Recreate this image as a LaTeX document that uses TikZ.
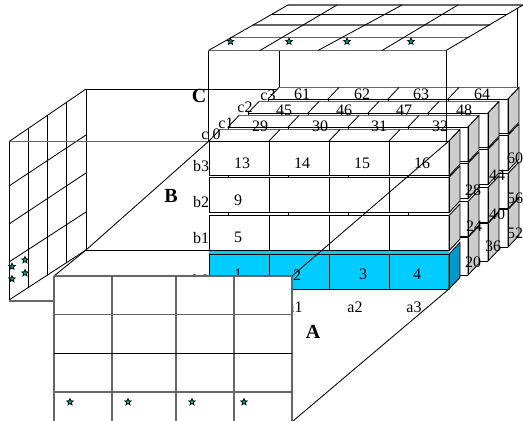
\documentclass[tikz,border=0pt]{standalone}
\usepackage{fontspec}
\setmainfont{Liberation Serif}
\usetikzlibrary{shapes.geometric}
\definecolor{cyanface}{HTML}{00CCFF}
\definecolor{cyanside}{HTML}{0099CC}
\definecolor{sideface}{HTML}{CCCCCC}
\definecolor{stargreen}{HTML}{00A080}
\tikzset{
  ln/.style={draw=black,line width=0.85pt},
  gln/.style={draw=black!60,line width=1.05pt},
  lab/.style={inner sep=0pt,font=\fontsize{16}{18}\selectfont},
  bigl/.style={inner sep=0pt,font=\fontsize{20}{22}\selectfont\bfseries},
  mark5/.style={star,star points=5,star point ratio=2.3,draw=black,line width=0.7pt,fill=stargreen,inner sep=0pt,minimum size=7pt},
}
% one row of a slice: x-left, y-top, y-bottom, front colour, side colour
\newcommand{\slrow}[5]{%
  \fill[#4] (#1,#2) rectangle (#1+240,#3);
  \fill[#5,draw=black,line width=0.85pt] (#1+240,#2) -- ++(11,-11.5) -- (#1+251,#3-11.5) -- (#1+240,#3) -- cycle;
  \foreach \cc in {0,60,120,180,240}{\draw[ln] (#1+\cc,#2) -- (#1+\cc,#3);}
  \draw[ln] (#1,#2) -- (#1+240,#2);
  \draw[ln] (#1,#3) -- (#1+240,#3);
}
% one slice: x-left, y offset
\newcommand{\slice}[2]{%
  \fill[white] (#1,141-#2) -- ++(11,-11.5) -- ++(240,0) -- ++(-11,11.5) -- cycle;
  \draw[gln] (#1+11,129.5-#2) -- ++(240,0);
  \foreach \cc in {0,60,120,180,240}{\draw[ln] (#1+\cc,141-#2) -- ++(11,-11.5);}
  \slrow{#1}{141-#2}{175.8-#2}{white}{sideface}
  \slrow{#1}{177.4-#2}{212.5-#2}{white}{sideface}
  \slrow{#1}{215.5-#2}{250.7-#2}{white}{sideface}
}
\begin{document}
\begin{tikzpicture}[x=1pt,y=-1pt]
\useasboundingbox (0,0) rectangle (523,421);
\fill[white] (0,0) rectangle (523,421);
% side plane (B)
\foreach \xx/\yy in {9/141.6,28/128.8,47.5/115.6,66.5/102.7,86/89}{
  \pgfmathsetmacro{\yb}{300-(\xx-9)*50/77}
  \draw[ln] (\xx,\yy) -- (\xx,\yb);
}
\draw[ln] (9,141.6) -- (86,89);
\draw[ln] (9,186) -- (86,135);
\draw[ln] (9,224) -- (86,173);
\draw[ln] (9,262) -- (86,212);
\draw[ln] (9,300) -- (86,250);
\draw[gln] (9,141.6) -- (209,141.6);
\draw[ln] (86,89) -- (279,89);
\draw[ln] (86,250) -- (209,250);
\draw[ln] (209,141) -- (86,250);
\draw[gln] (9,301) -- (54,301);
\draw[ln] (86,250) -- (54,276);
\foreach \n/\xx/\yy in {sa/12/266.5,sb/25/260,sc/25/273,sd/12/279}{\node[mark5] (\n) at (\xx,\yy) {};}
% top plane (C)
\fill[white] (208.5,50.5) -- (288,5) -- (523,5) -- (446,50.5) -- cycle;
\draw[gln] (288,5) -- (523,5);
\draw[ln] (271.5,14.5) -- (507,14.5);
\draw[gln] (253,25) -- (490,25);
\draw[gln] (231,37.5) -- (469,37.5);
\draw[gln] (208.5,50.5) -- (446,50.5);
\foreach \aa/\bb in {208.5/288,260/337,318/402,382/458,446/523}{\draw[ln] (\aa,50.5) -- (\bb,5);}
\foreach \n/\xx in {ta/230.5,tb/289,tc/347,td/411}{\node[mark5] (\n) at (\xx,41.5) {};}
\draw[ln] (279,51) -- (279,88);
\draw[ln] (517,8) -- (517,87);
% slices, back to front
\slice{268}{42}
\slrow{268}{209.5}{247}{white}{sideface}
\slice{248}{28}
\slrow{248}{223.5}{261}{white}{sideface}
\slice{228}{14}
\slrow{228}{237.5}{275}{white}{sideface}
\slice{209}{0}
\slrow{209}{254}{289}{cyanface}{cyanside}
% top strip of the blue row
\fill[cyanface] (209.4,254) -- (209.4,251.3) -- (448.6,251.3) -- (448.6,254) -- cycle;
% edges over the stack
\draw[ln] (208.5,51) -- (208.5,141);
\draw[ln] (446,51) -- (446,141);
\draw[ln] (449,141) -- (292,276);
\draw[ln] (449,289) -- (293,421);
% labels of cells
\foreach \n/\t/\xx/\yy in {
 l61/61/302/94,l62/62/362/94,l63/63/421/94,l64/64/482/94,
 l45/45/284/110,l46/46/344/110,l47/47/404/110,l48/48/464/110,
 l29/29/260/126,l30/30/320/126,l31/31/379/126,l32/32/440/126,
 l13/13/242/163,l14/14/302/163,l15/15/362/163,l16/16/422/163,
 l9/9/238/200,l5/5/238/237,l1/1/238/274,l2/2/297/275,l3/3/363/274,l4/4/417/274,
 l60/60/515/158,l44/44/497/175,l28/28/473/190,
 l56/56/515/198,l40/40/497/214,l24/24/474/226,
 l52/52/515/233,l36/36/493/246,l20/20/473/262,
 c3/c3/268/95,c2/c2/245/107,c1/c1/226/123,
 b3/b3/201/166,b2/b2/201/202,b1/b1/201/238,b0/b0/201/280,
 a1/a1/295/307,a2/a2/355/307,a3/a3/414/307}{
  \node[lab] (\n) at (\xx,\yy) {\t};
}
\node[lab] (c0) at (211,134) {c 0};
% front plane (A)
\fill[white] (54,276) rectangle (292,421);
\foreach \xx in {54,112,176,234,292}{\draw[gln] (\xx,276) -- (\xx,421);}
\draw[gln] (54,276) -- (292,276);
\draw[gln] (54,314.5) -- (292,314.5);
\draw[ln] (54,353.5) -- (292,353.5);
\draw[gln] (54,392) -- (292,392);
\foreach \n/\xx in {fa/70,fb/128,fc/192,fd/244}{\node[mark5] (\n) at (\xx,402) {};}
\node[bigl] (axisA) at (313,332) {A};
\node[bigl] (axisB) at (171,196) {B};
\node[bigl] (axisC) at (199,96) {C};
\end{tikzpicture}
\end{document}
